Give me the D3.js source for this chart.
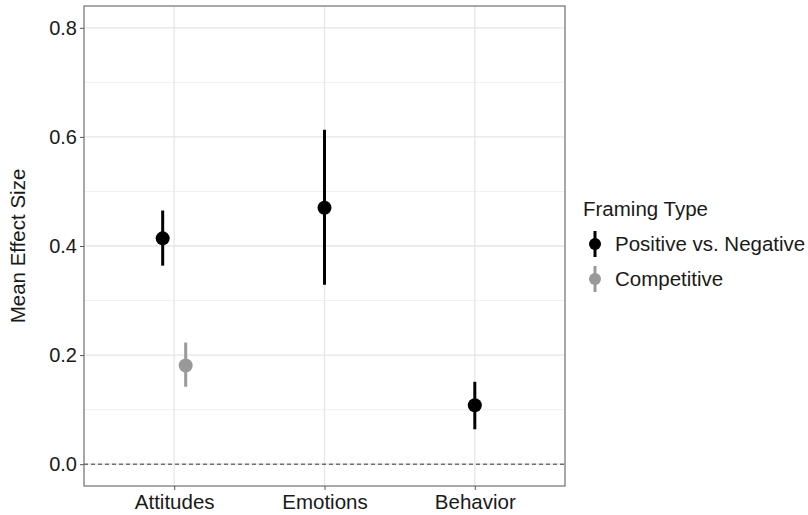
<!DOCTYPE html>
<html>
<head>
<meta charset="utf-8">
<script src="https://cdn.jsdelivr.net/npm/d3@7"></script>
<style>
  body { margin: 0; background: #fff; }
  text { font-family: "Liberation Sans", Arial, sans-serif; }
</style>
</head>
<body>
<div id="chart"></div>
<script>
// data
var outcomes = ["Attitudes", "Emotions", "Behavior"];
var framingTypes = ["Positive vs. Negative", "Competitive"];
var rowOutcome = ["Attitudes", "Attitudes", "Emotions", "Behavior"];
var rowFraming = ["Positive vs. Negative", "Competitive", "Positive vs. Negative", "Positive vs. Negative"];
var meanEffect = [0.414, 0.181, 0.470, 0.108];
var ciLower = [0.364, 0.142, 0.329, 0.064];
var ciUpper = [0.465, 0.223, 0.613, 0.151];
var yTicks = [0, 0.2, 0.4, 0.6, 0.8];
var yMinor = [0.1, 0.3, 0.5, 0.7];

var W = 808, H = 515;
var margin = {left: 84, top: 6, right: 243, bottom: 29};
var width = W - margin.left - margin.right,
    height = H - margin.top - margin.bottom;

var colors = {"Positive vs. Negative": "#000000", "Competitive": "#999999"};

var data = meanEffect.map(function(m, i) {
  return {outcome: rowOutcome[i], framing: rowFraming[i], mean: m, lo: ciLower[i], hi: ciUpper[i]};
});

(function(){
  var svg = d3.select("#chart")
    .append("svg")
      .attr("width", W)
      .attr("height", H)
    .append("g")
      .attr("transform", "translate(" + margin.left + "," + margin.top + ")");

  // y scale with ggplot-like 5% expansion
  var y = d3.scaleLinear()
    .domain([-0.04, 0.84])
    .range([height, 0]);

  // discrete x: positions 1..n, expanded by 0.6
  var x = d3.scalePoint()
    .domain(outcomes)
    .range([width * 0.6 / 3.2, width * 2.6 / 3.2]);

  // dodge offset (only where both groups exist)
  var dodge = 11.5;
  function xpos(d) {
    var n = data.filter(function(e) { return e.outcome === d.outcome; }).length;
    if (n < 2) return x(d.outcome);
    return x(d.outcome) + (framingTypes.indexOf(d.framing) === 0 ? -dodge : dodge);
  }

  ///////////////////////////////////////// grid
  svg.append("g").selectAll("line.minor")
    .data(yMinor).enter().append("line")
      .attr("x1", 0).attr("x2", width)
      .attr("y1", function(d) { return y(d); })
      .attr("y2", function(d) { return y(d); })
      .attr("stroke", "#f0f0f0").attr("stroke-width", 1);

  svg.append("g").selectAll("line.major")
    .data(yTicks).enter().append("line")
      .attr("x1", 0).attr("x2", width)
      .attr("y1", function(d) { return y(d); })
      .attr("y2", function(d) { return y(d); })
      .attr("stroke", "#e6e6e6").attr("stroke-width", 1.3);

  svg.append("g").selectAll("line.vx")
    .data(outcomes).enter().append("line")
      .attr("x1", function(d) { return x(d); })
      .attr("x2", function(d) { return x(d); })
      .attr("y1", 0).attr("y2", height)
      .attr("stroke", "#e6e6e6").attr("stroke-width", 1.3);

  // dashed zero line
  svg.append("line")
    .attr("x1", 0).attr("x2", width)
    .attr("y1", y(0)).attr("y2", y(0))
    .attr("stroke", "#333").attr("stroke-width", 1)
    .attr("stroke-dasharray", "4,3");

  ///////////////////////////////////////// error bars + points
  svg.append("g").selectAll("line.ci")
    .data(data).enter().append("line")
      .attr("x1", xpos).attr("x2", xpos)
      .attr("y1", function(d) { return y(d.lo); })
      .attr("y2", function(d) { return y(d.hi); })
      .attr("stroke", function(d) { return colors[d.framing]; })
      .attr("stroke-width", 3);

  svg.append("g").selectAll("circle")
    .data(data).enter().append("circle")
      .attr("cx", xpos)
      .attr("cy", function(d) { return y(d.mean); })
      .attr("r", 7)
      .attr("fill", function(d) { return colors[d.framing]; });

  // panel border
  svg.append("rect")
    .attr("x", 0).attr("y", 0)
    .attr("width", width).attr("height", height)
    .attr("fill", "none").attr("stroke", "#7a7a7a").attr("stroke-width", 1.3);

  ///////////////////////////////////////// axes
  var yAxis = svg.append("g")
    .call(d3.axisLeft(y).tickValues(yTicks).tickFormat(d3.format(".1f")).tickSize(4).tickPadding(3));
  yAxis.select(".domain").remove();
  yAxis.selectAll(".tick line").attr("stroke", "#555");
  yAxis.selectAll(".tick text").attr("fill", "#1a1a1a").style("font-size", "20px");

  var xAxis = svg.append("g")
    .attr("transform", "translate(0," + height + ")")
    .call(d3.axisBottom(x).tickSize(4).tickPadding(4));
  xAxis.select(".domain").remove();
  xAxis.selectAll(".tick line").attr("stroke", "#555");
  xAxis.selectAll(".tick text").attr("fill", "#1a1a1a").style("font-size", "20.5px");

  // y axis title
  svg.append("text")
    .attr("transform", "translate(" + (-59) + "," + (height / 2) + ") rotate(-90)")
    .style("text-anchor", "middle")
    .style("font-size", "20.5px")
    .attr("fill", "#1a1a1a")
    .text("Mean Effect Size");

  ///////////////////////////////////////// legend
  var legend = svg.append("g")
    .attr("transform", "translate(" + (width + 18) + "," + 0 + ")");

  legend.append("text")
    .attr("x", 0).attr("y", 210)
    .style("font-size", "20.5px")
    .attr("fill", "#1a1a1a")
    .text("Framing Type");

  var items = legend.selectAll("g.item")
    .data(framingTypes).enter().append("g")
      .attr("transform", function(d, i) { return "translate(0," + (238 + i * 35) + ")"; });

  items.append("line")
    .attr("x1", 12).attr("x2", 12)
    .attr("y1", -13).attr("y2", 13)
    .attr("stroke", function(d) { return colors[d]; })
    .attr("stroke-width", 3);

  items.append("circle")
    .attr("cx", 12).attr("cy", 0).attr("r", 6)
    .attr("fill", function(d) { return colors[d]; });

  items.append("text")
    .attr("x", 32).attr("y", 0)
    .attr("dy", "0.35em")
    .style("font-size", "20.5px")
    .attr("fill", "#1a1a1a")
    .text(function(d) { return d; });
})();
</script>
</body>
</html>
